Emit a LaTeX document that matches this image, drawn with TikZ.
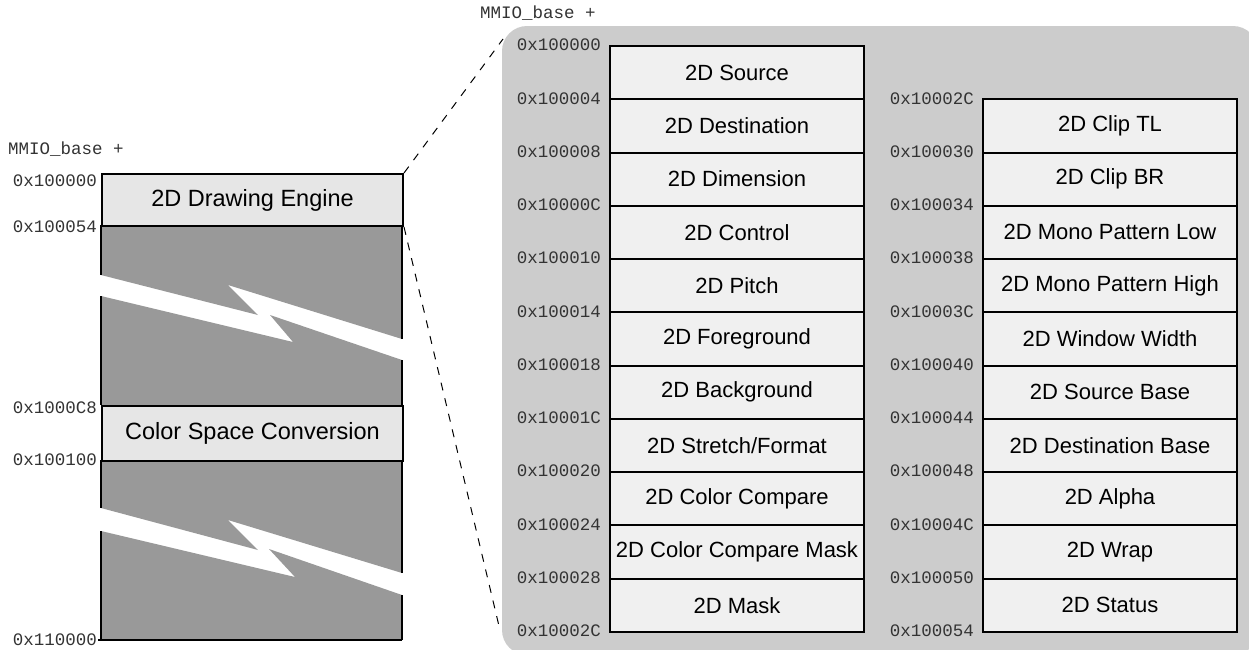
\documentclass[tikz,border=0pt]{standalone}
\usepackage{fontspec}
\setmainfont{Liberation Sans}
\newfontfamily\monof{Liberation Mono}
\definecolor{panelgray}{HTML}{CCCCCC}
\definecolor{darkfill}{HTML}{999999}
\definecolor{boxfill}{HTML}{E6E6E6}
\definecolor{regfill}{HTML}{F0F0F0}
\definecolor{addrgray}{HTML}{333333}
\newcommand{\addrfont}{\monof\fontsize{17.5}{20}\selectfont}
\newcommand{\regfont}{\fontsize{22}{26}\selectfont}
\newcommand{\bigfont}{\fontsize{23.5}{28}\selectfont}
\begin{document}
\begin{tikzpicture}[x=1pt,y=-1pt,
  addr/.style={font=\addrfont, text=addrgray, anchor=east, inner sep=0pt},
  addrl/.style={font=\addrfont, text=addrgray, anchor=west, inner sep=0pt},
  regbox/.style={draw, line width=2pt, fill=regfill, minimum width=254pt, minimum height=53.25pt, anchor=north west, inner sep=0pt, font=\regfont},
  bigbox/.style={draw, line width=2pt, fill=boxfill, minimum width=301pt, anchor=north west, inner sep=0pt, font=\bigfont},
  edge/.style={line width=2pt},
  zoomline/.style={line width=1pt, dash pattern=on 8pt off 8pt}]
\useasboundingbox (0,0) rectangle (1249,649);
\begin{scope}
\clip (0,0) rectangle (1249,649);
\fill[panelgray, rounded corners=25pt] (502,26) rectangle (1258,655);
\end{scope}

% left memory map
\fill[darkfill] (101,225) -- (402,225) -- (402,339) -- (228,285) -- (258,315) -- (101,275) -- cycle;
\fill[darkfill] (101,296) -- (293,342) -- (270,315) -- (402,360) -- (402,405) -- (101,405) -- cycle;
\fill[darkfill] (101,460) -- (402,460) -- (402,573) -- (228,520) -- (258,550) -- (101,508) -- cycle;
\fill[darkfill] (101,531) -- (295,577) -- (269,549) -- (402,595) -- (402,640) -- (101,640) -- cycle;
\draw[edge] (101,225) -- (101,275) (402,225) -- (402,339)
            (101,296) -- (101,405) (402,360) -- (402,405)
            (101,460) -- (101,508) (402,460) -- (402,573)
            (101,531) -- (101,640) (402,595) -- (402,640);
\draw[edge] (98,640) -- (402,640);
\node[bigbox, minimum height=52pt] (eng) at (101,173) {2D Drawing Engine};
\node[bigbox, minimum height=55pt] (csc) at (101,405) {Color Space Conversion};

\node[addrl] (mmio1) at (8,149) {MMIO\_base +};
\node[addr] (a1) at (97,181) {0x100000};
\node[addr] (a2) at (97,227) {0x100054};
\node[addr] (a3) at (97,408) {0x1000C8};
\node[addr] (a4) at (97,460) {0x100100};
\node[addr] (a5) at (97,640) {0x110000};

% zoom lines
\coordinate (ztop) at (503,39);
\coordinate (zbot) at (499,626);
\draw[zoomline] (eng.north east) -- (ztop);
\draw[zoomline] (eng.south east) -- (zbot);

% right panel
\node[addrl] (mmio2) at (480,13) {MMIO\_base +};
\foreach \i/\t/\a in {0/2D Source/0x100000, 1/2D Destination/0x100004, 2/2D Dimension/0x100008,
  3/2D Control/0x10000C, 4/2D Pitch/0x100010, 5/2D Foreground/0x100014, 6/2D Background/0x100018,
  7/{2D Stretch/Format}/0x10001C, 8/2D Color Compare/0x100020, 9/2D Color Compare Mask/0x100024,
  10/2D Mask/0x100028} {
  \node[regbox] (L\i) at (609,{45+53.25*\i}) {\t};
  \node[addr] (LA\i) at (601,{45+53.25*\i}) {\a};
}
\node[addr] (LAend) at (601,{45+53.25*11}) {0x10002C};
\foreach \i/\t/\a in {0/2D Clip TL/0x10002C, 1/2D Clip BR/0x100030, 2/2D Mono Pattern Low/0x100034,
  3/2D Mono Pattern High/0x100038, 4/2D Window Width/0x10003C, 5/2D Source Base/0x100040,
  6/2D Destination Base/0x100044, 7/2D Alpha/0x100048, 8/2D Wrap/0x10004C, 9/2D Status/0x100050} {
  \node[regbox] (R\i) at (982,{98.25+53.25*\i}) {\t};
  \node[addr] (RA\i) at (974,{98.25+53.25*\i}) {\a};
}
\node[addr] (RAend) at (974,{98.25+53.25*10}) {0x100054};
\end{tikzpicture}
\end{document}
